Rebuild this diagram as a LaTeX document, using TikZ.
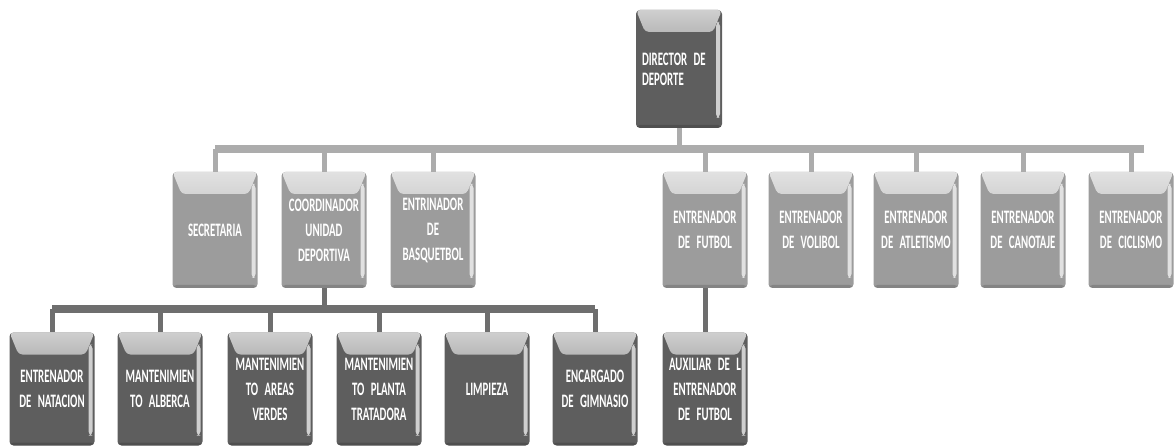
\documentclass[tikz,border=0pt]{standalone}
\usepackage{fontspec}
\setmainfont{Carlito}[FakeStretch=0.57]
\definecolor{boxlight}{HTML}{9C9C9C}
\definecolor{boxdark}{HTML}{5E5E5E}
\definecolor{linelight}{HTML}{ACACAC}
\definecolor{linedark}{HTML}{6E6E6E}
\tikzset{
  bevel/.style={
    path picture={
      \shade [top color=white!70!#1, bottom color=#1]
        (path picture bounding box.north west)
        -- (path picture bounding box.north east)
        -- ([xshift=-9pt,yshift=-22pt]path picture bounding box.north east)
        -- ([xshift=9pt,yshift=-22pt]path picture bounding box.north west) -- cycle;
      \fill [white, opacity=0.7]
        ([xshift=-6pt,yshift=-12pt]path picture bounding box.north east)
        rectangle ([xshift=-2pt,yshift=10pt]path picture bounding box.south east);
      \fill [black, opacity=0.15]
        ([yshift=3pt]path picture bounding box.south west)
        rectangle (path picture bounding box.south east);
    }},
  orgbox/.style={rounded corners=4pt, minimum width=85pt, text width=82pt,
    align=center, text=white, font=\bfseries\fontsize{19}{25}\selectfont, inner sep=1pt},
  upperbox/.style={orgbox, fill=boxlight, bevel=boxlight, minimum height=116pt},
  lowerbox/.style={orgbox, fill=boxdark, bevel=boxdark, minimum height=113pt},
  upperwire/.style={draw=linelight, line width=5pt},
  lowerwire/.style={draw=linedark, line width=5pt},
}
\begin{document}
\begin{tikzpicture}[x=1pt, y=-1pt]
\useasboundingbox (0,0) rectangle (1175,446);

\node (dir) at (679,69) [orgbox, fill=boxdark, bevel=boxdark, minimum width=86pt,
  minimum height=118pt, align=left, text width=74pt,
  font=\bfseries\fontsize{19}{20}\selectfont] {DIRECTOR DE\\DEPORTE};

\node (sec)   at (215,230)  [upperbox] {SECRETARIA};
\node (coord) at (324,230)  [upperbox] {COORDINADOR\\UNIDAD\\DEPORTIVA};
\node (basq)  at (433,230)  [upperbox] {ENTRINADOR\\DE\\BASQUETBOL};
\node (fut)   at (705,230)  [upperbox] {ENTRENADOR\\DE FUTBOL};
\node (vol)   at (811,230)  [upperbox] {ENTRENADOR\\DE VOLIBOL};
\node (atl)   at (916,230)  [upperbox] {ENTRENADOR\\DE ATLETISMO};
\node (can)   at (1023,230) [upperbox] {ENTRENADOR\\DE CANOTAJE};
\node (cic)   at (1131,230) [upperbox] {ENTRENADOR\\DE CICLISMO};

\node (nat) at (52,389)  [lowerbox] {ENTRENADOR\\DE NATACION};
\node (alb) at (160,389) [lowerbox] {MANTENIMIEN\\TO ALBERCA};
\node (ver) at (270,389) [lowerbox] {MANTENIMIEN\\TO AREAS\\VERDES};
\node (pla) at (379,389) [lowerbox] {MANTENIMIEN\\TO PLANTA\\TRATADORA};
\node (lim) at (487,389) [lowerbox] {LIMPIEZA};
\node (gim) at (595,389) [lowerbox] {ENCARGADO\\DE GIMNASIO};
\node (aux) at (705,389) [lowerbox] {AUXILIAR DE L\\ENTRENADOR\\DE FUTBOL};

\coordinate (topbus) at (679,149);
\coordinate (lowbus) at (324,309);

\draw [upperwire] (dir.south) -- (topbus);
\draw [upperwire, line width=8pt] (sec.north |- topbus) -- ([xshift=13pt]cic.north |- topbus);
\foreach \n in {sec,coord,basq,fut,vol,atl,can,cic}
  \draw [upperwire] (\n.north |- topbus) -- (\n.north);

\draw [lowerwire] (coord.south) -- (lowbus);
\draw [lowerwire, line width=8pt] (nat.north |- lowbus) -- (gim.north |- lowbus);
\foreach \n in {nat,alb,ver,pla,lim,gim}
  \draw [lowerwire] (\n.north |- lowbus) -- (\n.north);

\draw [lowerwire] (fut.south) -- (aux.north);
\end{tikzpicture}
\end{document}
